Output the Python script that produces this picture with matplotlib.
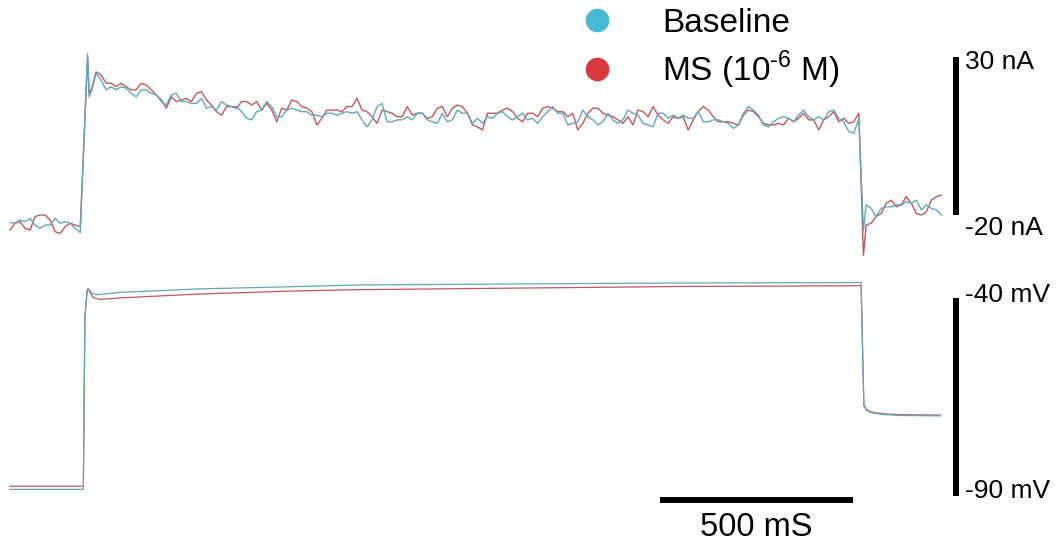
import numpy as np
import matplotlib.pyplot as plt
from matplotlib.lines import Line2D

plt.rcParams['font.family'] = ['Liberation Sans', 'DejaVu Sans']
plt.rcParams['mathtext.fontset'] = 'custom'
plt.rcParams['mathtext.rm'] = 'Liberation Sans'

t_pre = np.arange(0, 183, 13)          # holding before the step
t_step = [201, 205, 212]                # capacitive peak on the step
t_plat = np.arange(223, 2200, 13)       # during the step
t_fall = [2211]
t_tail = np.arange(2218, 2414, 13)      # after the step

i_base_pre = [-22.4, -22.6, -21.6, -22.1, -21.1, -23.2, -24.2, -23.2, -23.2, -21.1,
              -22.6, -22.1, -22.6, -24.2, -25.6]
i_ms_pre = [-24.8, -22.6, -22.1, -24.2, -24.8, -20.5, -20.0, -20.0, -21.6, -25.3,
            -25.8, -23.7, -22.6, -23.2, -23.7]
i_base_step = [31.0, 17.4, 19.6]
i_ms_step = [30.0, 18.5, 20.1]

i_base_plat = [24.8, 22.7, 19.6, 20.6, 19.6, 20.6, 20.1, 18.5, 17.4, 19.6,
               19.6, 18.5, 18.0, 15.9, 14.8, 18.0, 18.5, 15.9, 15.9, 15.3,
               15.3, 16.9, 13.8, 14.3, 13.2, 15.9, 14.8, 14.3, 14.3, 12.7,
               10.6, 10.1, 12.7, 13.2, 15.9, 14.3, 11.1, 11.1, 13.2, 13.8,
               13.2, 12.7, 12.7, 11.6, 11.6, 11.1, 12.2, 12.2, 11.6, 12.2,
               12.7, 12.2, 12.7, 10.1, 7.9, 10.1, 14.3, 15.3, 9.5, 9.5,
               10.1, 10.1, 11.1, 10.1, 12.2, 12.2, 10.1, 9.5, 9.0, 12.2,
               9.5, 10.1, 13.2, 12.2, 12.2, 9.0, 10.6, 9.0, 11.1, 10.6,
               12.2, 12.7, 11.1, 10.1, 11.1, 12.2, 10.1, 10.6, 9.0, 11.1,
               12.7, 14.3, 12.2, 12.2, 8.5, 9.0, 9.5, 13.2, 11.1, 10.1,
               8.5, 9.5, 12.2, 10.1, 9.0, 10.1, 13.2, 12.2, 11.6, 9.0,
               8.5, 7.9, 12.2, 12.2, 10.6, 11.6, 10.6, 11.6, 10.6, 10.6,
               12.7, 9.5, 9.5, 10.1, 10.1, 9.5, 9.0, 7.4, 8.5, 12.2,
               14.3, 13.2, 11.6, 8.5, 7.9, 9.5, 10.6, 11.1, 10.6, 9.5,
               11.6, 13.2, 11.1, 10.1, 11.1, 10.1, 12.7, 13.2, 10.6, 9.5,
               6.4, 5.9, 10.6]
i_ms_plat = [25.3, 24.3, 21.7, 21.7, 20.6, 21.7, 20.6, 19.6, 19.6, 21.7,
             21.1, 19.6, 18.0, 16.4, 13.8, 17.4, 15.9, 16.4, 16.9, 15.9,
             18.5, 19.0, 16.4, 14.8, 12.7, 11.6, 14.3, 14.3, 13.8, 15.9,
             15.9, 14.8, 15.9, 13.2, 15.3, 13.2, 9.5, 13.8, 13.2, 16.4,
             15.9, 14.3, 13.8, 12.7, 8.5, 10.6, 13.2, 13.2, 13.2, 12.7,
             14.3, 14.3, 16.9, 13.2, 12.7, 11.1, 9.0, 13.2, 12.7, 12.2,
             11.1, 11.1, 14.3, 11.6, 12.2, 12.2, 10.6, 11.1, 13.8, 14.3,
             11.1, 13.8, 14.8, 14.3, 12.2, 8.5, 7.9, 6.9, 12.2, 12.2,
             12.2, 13.2, 13.8, 12.7, 10.6, 9.5, 12.2, 12.2, 11.1, 13.8,
             14.3, 13.8, 12.7, 12.7, 11.1, 12.2, 6.9, 9.0, 12.2, 13.8,
             13.8, 12.2, 11.6, 11.1, 10.1, 9.0, 11.1, 8.5, 13.2, 12.7,
             11.1, 14.3, 11.6, 10.1, 9.0, 11.1, 10.6, 11.1, 6.9, 10.1,
             12.7, 14.3, 13.2, 11.1, 9.5, 9.5, 9.5, 9.0, 8.5, 11.6,
             13.2, 12.7, 11.1, 9.0, 8.5, 8.5, 9.0, 8.5, 10.6, 9.5,
             10.6, 12.2, 10.1, 10.1, 6.9, 10.1, 11.1, 12.7, 9.5, 10.6,
             9.0, 9.5, 12.2]
i_base_fall = [-24.8]
i_ms_fall = [-32.7]
i_base_tail = [-16.8, -17.9, -20.5, -17.9, -17.4, -17.4, -16.8, -16.8, -15.8, -16.3,
               -15.3, -18.4, -16.8, -17.9, -18.4, -20.0]
i_ms_tail = [-23.2, -22.6, -20.5, -19.5, -16.3, -15.3, -17.4, -16.8, -14.2, -16.3,
             -19.5, -20.0, -19.0, -15.3, -14.2, -13.7]

# --- voltage traces (mV) ---
tv_base = [0, 190, 194, 200, 203, 212, 225, 285, 492, 751, 907, 1736, 2205,
           2212, 2218, 2228, 2241, 2267, 2306, 2410]
v_base = [-88.8, -88.8, -45.0, -37.9, -37.7, -38.9, -39.3, -38.7, -37.8, -37.2,
          -36.8, -36.3, -36.2, -67.5, -68.6, -69.2, -69.5, -69.8, -70.0, -70.1]
tv_ms = [0, 190, 194, 200, 204, 215, 233, 285, 492, 751, 907, 1736, 2205,
         2212, 2218, 2228, 2241, 2267, 2306, 2410]
v_ms = [-88.0, -88.0, -45.0, -38.3, -38.1, -40.0, -40.5, -40.1, -39.1, -38.3,
        -38.0, -37.2, -37.0, -67.3, -68.4, -69.0, -69.3, -69.6, -69.8, -69.9]

labels = ['Baseline', 'MS (10$^{\\mathregular{\u20106}}$ M)']
dot_colors = ['#45bad2', '#d8393f']
trace_colors = ['#62a8b9', '#c1585d']

t_cur = np.concatenate([t_pre, t_step, t_plat, t_fall, t_tail])
i_base = np.concatenate([i_base_pre, i_base_step, i_base_plat, i_base_fall, i_base_tail])
i_ms = np.concatenate([i_ms_pre, i_ms_step, i_ms_plat, i_ms_fall, i_ms_tail])

fig = plt.figure(figsize=(10.6, 5.46), dpi=100)
ax_i = fig.add_axes([0, 0.5055, 1, 0.4945])
ax_v = fig.add_axes([0, 0, 1, 0.4945])

ax_i.plot(t_cur, i_ms, color=trace_colors[1], lw=1.0)
ax_i.plot(t_cur, i_base, color=trace_colors[0], lw=1.0)
ax_v.plot(tv_ms, v_ms, color=trace_colors[1], lw=0.9)
ax_v.plot(tv_base, v_base, color=trace_colors[0], lw=0.9)

# scale bars
bar_t = 2450
lab_t = 2474
ax_i.plot([bar_t, bar_t], [30, -20], color='black', lw=4.3, solid_capstyle='butt')
ax_i.text(lab_t, 28.4, '30 nA', fontsize=19, va='center', ha='left')
ax_i.text(lab_t, -24.1, '-20 nA', fontsize=19, va='center', ha='left')

ax_v.plot([bar_t, bar_t], [-40, -90.5], color='black', lw=4.3, solid_capstyle='butt')
ax_v.text(lab_t, -39.4, '-40 mV', fontsize=19, va='center', ha='left')
ax_v.text(lab_t, -89.3, '-90 mV', fontsize=19, va='center', ha='left')

ax_v.plot([1684, 2184], [-91.5, -91.5], color='black', lw=4.3, solid_capstyle='butt')
ax_v.text(1934, -98.6, '500 mS', fontsize=23.5, va='center', ha='center')

ax_i.set_xlim(-25.9, 2720.2)
ax_i.set_ylim(-37.41, 48.04)
ax_v.set_xlim(-25.9, 2720.2)
ax_v.set_ylim(-103.2, -34.53)
ax_i.axis('off')
ax_v.axis('off')

handles = [Line2D([], [], marker='o', ls='', color=c, markersize=16) for c in dot_colors]
fig.legend(handles, labels, loc='upper left', bbox_to_anchor=(0.554, 0.986),
           frameon=False, fontsize=24, handlelength=0.6, handletextpad=1.65,
           labelspacing=0.3, borderpad=0, borderaxespad=0)

fig.savefig('out.png', dpi=100)
